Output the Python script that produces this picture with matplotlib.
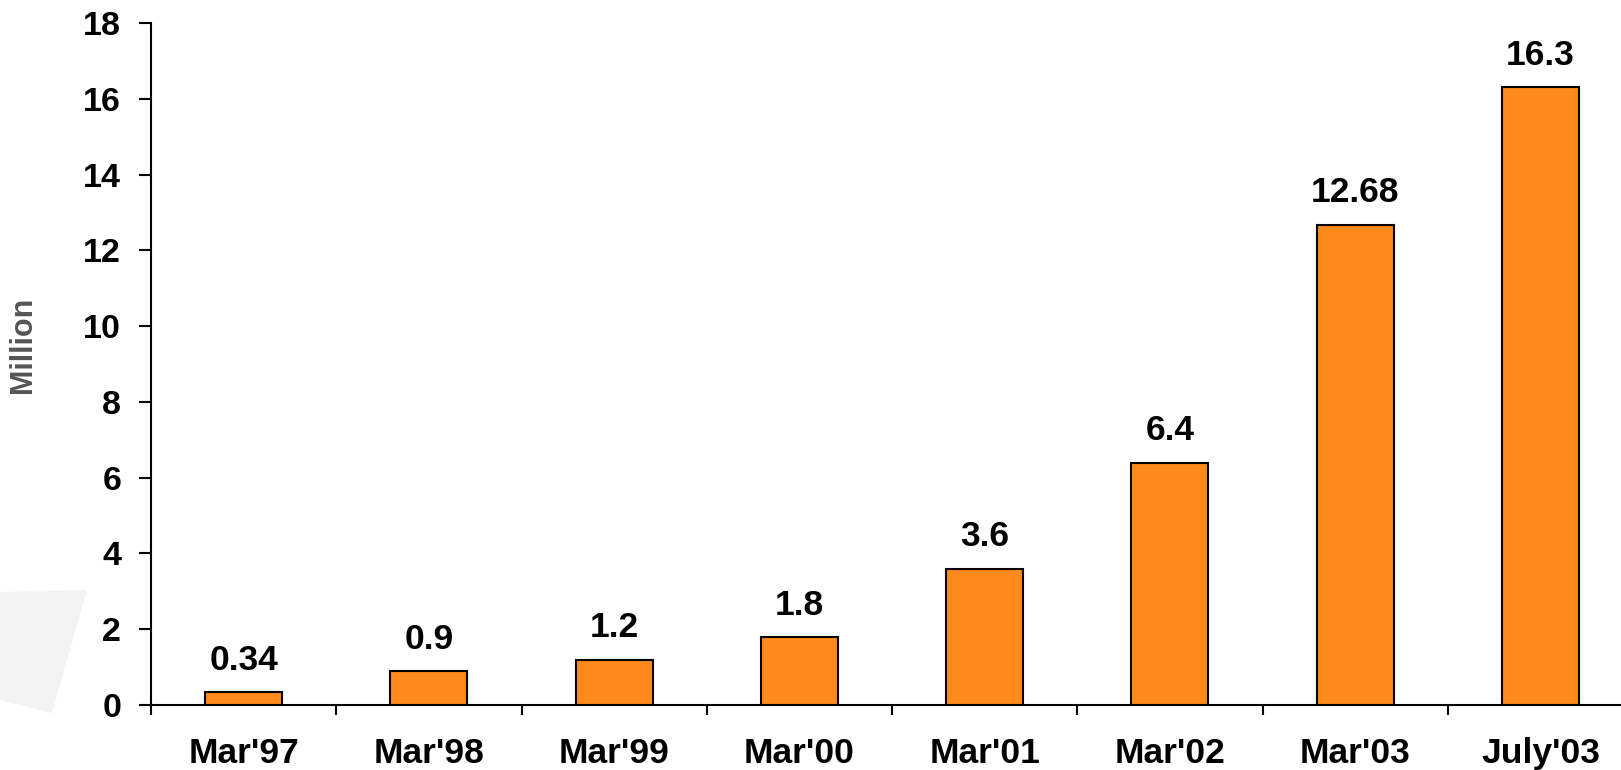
import matplotlib.pyplot as plt
from matplotlib.patches import Polygon

# datos
periodos = ["Mar'97", "Mar'98", "Mar'99", "Mar'00", "Mar'01", "Mar'02", "Mar'03", "July'03"]
valores = [0.34, 0.9, 1.2, 1.8, 3.6, 6.4, 12.68, 16.3]
etiquetas = ["0.34", "0.9", "1.2", "1.8", "3.6", "6.4", "12.68", "16.3"]

plt.rcParams['font.family'] = ['Liberation Sans', 'DejaVu Sans']
plt.rcParams['font.weight'] = 'bold'

W, H = 1621, 770
fig = plt.figure(figsize=(W / 100, H / 100), dpi=100)

# forma gris de fondo (decorativa)
fondo = Polygon([(0, H - 592), (87, H - 590), (52, H - 713), (0, H - 700)],
                closed=True, transform=None, facecolor="#f3f3f3", edgecolor="none", zorder=0)
fig.patches.append(fondo)

ax = fig.add_axes([151 / W, 65 / H, 1482 / W, 682 / H])
ax.patch.set_alpha(0)

x = range(len(periodos))
ax.bar(x, valores, width=0.415, color="#FF8A1C", edgecolor="black", linewidth=1.5, zorder=3)

for i, v in enumerate(valores):
    ax.annotate(etiquetas[i], (i, v), xytext=(0, 11), textcoords="offset points",
                ha="center", va="bottom", fontsize=25.5, fontweight="bold")

ax.set_xlim(-0.5, 7.5)
ax.set_ylim(0, 18)
ax.set_yticks(range(0, 19, 2))
ax.set_xticks(list(x))
ax.set_xticklabels(periodos)
ax.set_xticks([i + 0.5 for i in range(-1, 8)], minor=True)

ax.tick_params(axis="x", which="major", length=0, pad=23, labelsize=25.5)
ax.tick_params(axis="x", which="minor", length=7.5, width=1.5, direction="out")
ax.tick_params(axis="y", length=8.5, width=1.5, pad=13, labelsize=24.5)
for t in ax.get_yticklabels() + ax.get_xticklabels():
    t.set_fontweight("bold")

for s in ["top", "right"]:
    ax.spines[s].set_visible(False)
ax.spines["left"].set_linewidth(1.5)
ax.spines["bottom"].set_linewidth(1.5)

fig.text(23 / W, 1 - 345 / H, "Million", rotation=90, ha="center", va="center",
         fontsize=22, fontweight="bold", color="#555555")

fig.savefig("out.png", dpi=100)
